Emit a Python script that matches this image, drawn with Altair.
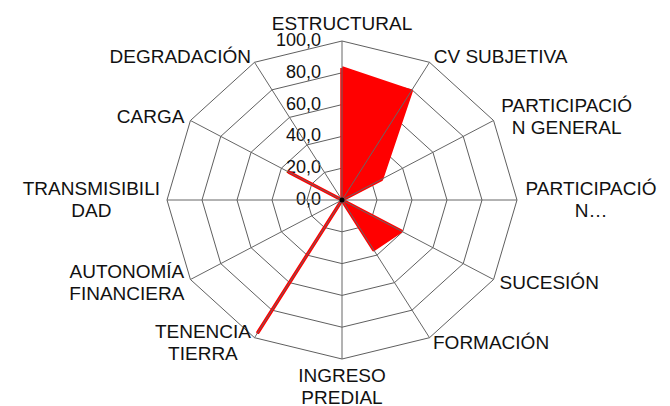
import math
import altair as alt
import pandas as pd

# ---------------- data ----------------
categories = [
    "ESTRUCTURAL", "CV SUBJETIVA", "PARTICIPACIÓ\nN GENERAL", "PARTICIPACIÓ\nN…",
    "SUCESIÓN", "FORMACIÓN", "INGRESO\nPREDIAL", "TENENCIA\nTIERRA",
    "AUTONOMÍA\nFINANCIERA", "TRANSMISIBILI\nDAD", "CARGA", "DEGRADACIÓN",
]
values = [83, 79, 26, 0, 39, 36, 0, 96, 0, 0, 35, 0]
ticks = [0, 20, 40, 60, 80, 100]
tick_labels = ["0,0", "20,0", "40,0", "60,0", "80,0", "100,0"]

# ---------------- layout ----------------
W, H = 654, 398
CX, CY = 334, 192          # centre of the radar in plot pixels
SX, SY = 1.75, 1.59        # pixels per unit (x, y)
FONT = "Liberation Sans"
FS = 19
LH = 22
LABEL_R = 104

xs = alt.Scale(domain=[-CX / SX, (W - CX) / SX], nice=False, zero=False)
ys = alt.Scale(domain=[-(H - CY) / SY, CY / SY], nice=False, zero=False)

N = len(categories)
angles = [i * 360.0 / N for i in range(N)]


def pos(r, a):
    t = math.radians(a)
    return r * math.sin(t), r * math.cos(t)


# Arial-like widths (per 1000 em) to centre multi-line labels
CW = {" ": 278, "A": 667, "B": 667, "C": 722, "D": 722, "E": 667, "F": 611, "G": 778,
      "H": 722, "I": 278, "J": 500, "K": 667, "L": 556, "M": 833, "N": 722, "O": 778,
      "P": 667, "Q": 778, "R": 722, "S": 667, "T": 611, "U": 722, "V": 667, "W": 944,
      "X": 667, "Y": 667, "Z": 611, "Ó": 778, "Í": 278, "Á": 667, "É": 667, "…": 1000}


def text_w(s):
    return max(sum(CW.get(c, 667) for c in line) for line in s.split("\n")) * FS / 1000.0


# rings
ring_rows = []
for r in ticks[1:]:
    for i in range(N + 1):
        x, y = pos(r, angles[i % N])
        ring_rows.append({"ring": r, "o": i, "x": x, "y": y})
rings_df = pd.DataFrame(ring_rows)

# spokes
spoke_rows = []
for a in angles:
    x, y = pos(ticks[-1], a)
    spoke_rows.append({"x": 0.0, "y": 0.0, "x2": x, "y2": y})
spokes_df = pd.DataFrame(spoke_rows)

# data polygon
poly_rows = []
for i in range(N + 1):
    x, y = pos(values[i % N], angles[i % N])
    poly_rows.append({"o": i, "x": x, "y": y})
poly_df = pd.DataFrame(poly_rows)

# tick labels
tick_df = pd.DataFrame({"x": [0.0] * len(ticks), "y": ticks, "t": tick_labels})

# category labels
lab_rows = []
for c, a in zip(categories, angles):
    ax, ay = pos(LABEL_R, a)
    px, py = ax * SX, ay * SY
    w = text_w(c)
    nl = len(c.split("\n"))
    s = math.sin(math.radians(a))
    co = math.cos(math.radians(a))
    if s > 0.01:
        px += w / 2
    elif s < -0.01:
        px -= w / 2
    if abs(co) > 0.99:
        py += math.copysign(nl * LH / 2, co)
    py += (nl - 1) * LH / 2          # first line position so the block is centred
    lab_rows.append({"x": px / SX, "y": py / SY, "t": c})
lab_df = pd.DataFrame(lab_rows)

X = alt.X("x:Q", scale=xs, axis=None)
Y = alt.Y("y:Q", scale=ys, axis=None)

rings = alt.Chart(rings_df).mark_line(stroke="#5f5f5f", strokeWidth=1).encode(
    x=X, y=Y, detail="ring:N", order="o:Q")

ticks_txt = alt.Chart(tick_df).mark_text(
    font=FONT, fontSize=18, align="right", baseline="middle", dx=-21, color="#111111"
).encode(x=X, y=Y, text="t:N")

poly = alt.Chart(poly_df).mark_line(
    fill="#FF0000", stroke="#FF0000", strokeWidth=3.5, strokeJoin="round"
).encode(x=X, y=Y, order="o:Q")

spokes = alt.Chart(spokes_df).mark_rule(stroke="#666666", strokeWidth=1).encode(
    x=X, y=Y, x2="x2:Q", y2="y2:Q")

center = alt.Chart(pd.DataFrame({"x": [0.0], "y": [0.0]})).mark_point(
    filled=True, color="black", size=25, opacity=1).encode(x=X, y=Y)

labels = alt.Chart(lab_df).mark_text(
    font=FONT, fontSize=FS, align="center", baseline="middle", lineBreak="\n",
    lineHeight=LH, color="#111111"
).encode(x=X, y=Y, text="t:N")

chart = alt.layer(rings, ticks_txt, poly, spokes, center, labels).properties(
    width=W, height=H, autosize=alt.AutoSizeParams(type="none"), padding=0
).configure_view(stroke=None)

chart.save("out.html", embed_options={"renderer": "svg", "actions": False})
